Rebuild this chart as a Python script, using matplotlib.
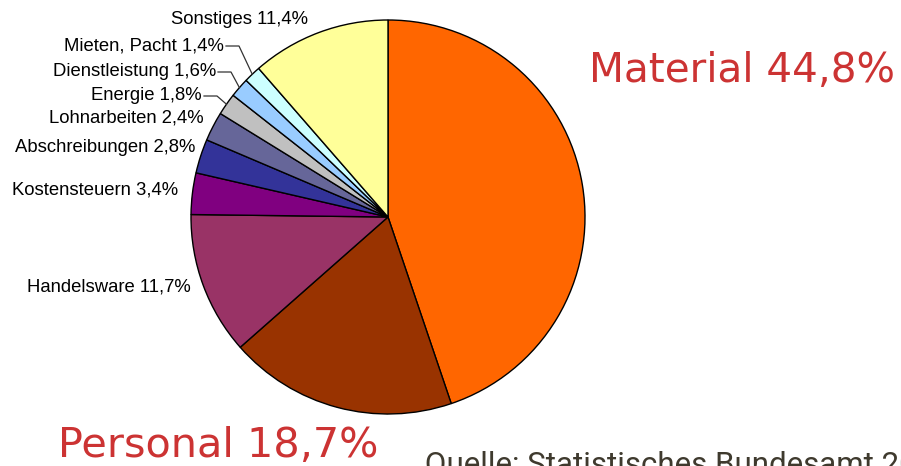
import numpy as np
import matplotlib
matplotlib.use("Agg")
from matplotlib import pyplot as plt


# %% --------------- DATA                                        ---------------------------------------------------- #
categories = ["Material", "Personal", "Handelsware", "Kostensteuern", "Abschreibungen",
              "Lohnarbeiten", "Energie", "Dienstleistung", "Mieten, Pacht", "Sonstiges"]
shares = [44.8, 18.7, 11.7, 3.4, 2.8, 2.4, 1.8, 1.6, 1.4, 11.4]
colors = ["#FF6600", "#993300", "#993366", "#800080", "#333399",
          "#666699", "#C0C0C0", "#99CCFF", "#CCFFFF", "#FFFF99"]

W, H = 901, 466
cx, cy, r = 388, H - 217, 197


def fmt(v):
    return ("%.1f%%" % v).replace(".", ",")


# %% --------------- FIGURE                                      ---------------------------------------------------- #
fig = plt.figure(figsize=(W / 100, H / 100), dpi=100)
ax = fig.add_axes([0, 0, 1, 1])

wedges, _ = ax.pie(shares, colors=colors, startangle=90, counterclock=False,
                   center=(cx, cy), radius=r, frame=True,
                   wedgeprops=dict(edgecolor="black", linewidth=1.0))
ax.set_xlim(0, W)
ax.set_ylim(0, H)
ax.set_aspect("equal")
ax.axis("off")

# small labels: index -> (text right edge x, text y in image px, leader line?)
small = {
    9: (308, 20, False),
    8: (224, 46, True),
    7: (216, 72, True),
    6: (202, 96, True),
    5: (204, 118, False),
    4: (195, 147, False),
    3: (178, 190, False),
    2: (191, 287, False),
}
for i, (xr, yi, leader) in small.items():
    ax.text(xr, H - yi, "%s %s" % (categories[i], fmt(shares[i])), ha="right", va="center",
            fontsize=13.3, family="Liberation Sans", color="black")
    if leader:
        w = wedges[i]
        mid = np.deg2rad((w.theta1 + w.theta2) / 2)
        ex, ey = cx + r * np.cos(mid), cy + r * np.sin(mid)
        hx = xr + 15
        ax.plot([xr + 2, hx, ex], [H - yi, H - yi, ey], color="#333333", lw=0.9)

ax.text(589, H - 82, "%s %s" % (categories[0], fmt(shares[0])), ha="left", va="baseline",
        fontsize=29.2, family="DejaVu Sans", color="#CC3333")
ax.text(58, H - 457, "%s %s" % (categories[1], fmt(shares[1])), ha="left", va="baseline",
        fontsize=29.8, family="DejaVu Sans", color="#CC3333")
ax.text(425, H - 474, "Quelle: Statistisches Bundesamt 2011", ha="left", va="baseline",
        fontsize=22.5, family="Roboto", color="#3f3a2e")

fig.savefig("out.png", dpi=100)
